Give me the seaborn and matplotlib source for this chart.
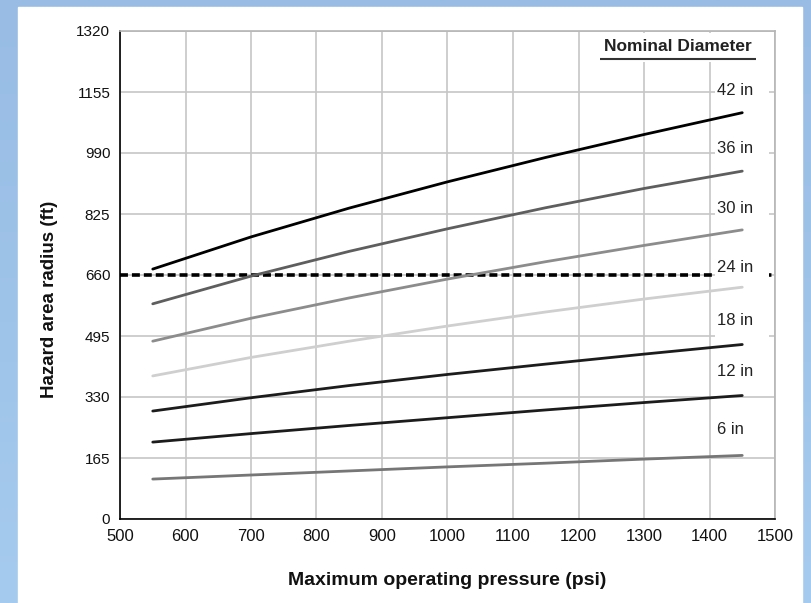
import matplotlib.pyplot as plt
import matplotlib.patches as mpatches
import numpy as np
import pandas as pd
import seaborn as sns

# values
pressures = [550, 700, 850, 1000, 1150, 1300, 1450]
diameters = ["42 in", "36 in", "30 in", "24 in", "18 in", "12 in", "6 in"]
radius_42 = [676, 763, 841, 912, 978, 1040, 1099]
radius_36 = [582, 657, 724, 785, 842, 894, 941]
radius_30 = [481, 543, 598, 649, 696, 740, 782]
radius_24 = [387, 437, 481, 522, 560, 595, 627]
radius_18 = [292, 328, 361, 391, 419, 446, 472]
radius_12 = [208, 231, 253, 274, 295, 315, 334]
radius_6 = [108, 119, 130, 141, 151, 162, 172]
threshold = 660
x_ticks = list(range(500, 1600, 100))
y_ticks = list(range(0, 1321, 165))

series = [radius_42, radius_36, radius_30, radius_24, radius_18, radius_12, radius_6]
df = pd.DataFrame(
    [(d, p, r) for d, vals in zip(diameters, series) for p, r in zip(pressures, vals)],
    columns=["diameter", "pressure", "radius"],
)

palette = {
    "42 in": "#000000",
    "36 in": "#5e5e5e",
    "30 in": "#8c8c8c",
    "24 in": "#cfcfcf",
    "18 in": "#1c1c1c",
    "12 in": "#1c1c1c",
    "6 in": "#767676",
}
label_y = {
    "42 in": 1160, "36 in": 1003, "30 in": 841, "24 in": 679,
    "18 in": 536, "12 in": 398, "6 in": 241,
}

sns.set_style("white")
plt.rcParams["font.family"] = ["Liberation Sans", "DejaVu Sans"]

fig = plt.figure(figsize=(8.12, 6.03), dpi=100)

# slide background: blue gradient with white panel
bg = fig.add_axes([0, 0, 1, 1], zorder=-2)
grad = np.linspace(0, 1, 256).reshape(-1, 1)
bg.imshow(grad, aspect="auto", extent=[0, 1, 0, 1],
          cmap=plt.matplotlib.colors.LinearSegmentedColormap.from_list(
              "slide", ["#98bce4", "#a5cbee"]))
bg.add_patch(mpatches.Rectangle((18 / 812, 0), (802 - 18) / 812, 1 - 7 / 603,
                                transform=bg.transAxes, color="white", zorder=2))
bg.set_axis_off()

ax = fig.add_axes([120 / 812, 1 - 519 / 603, 655 / 812, 488 / 603])
ax.set_facecolor("white")

ax.axhline(threshold, color="black", lw=2.6, ls=(0, (2.2, 1.1)), zorder=3)

sns.lineplot(data=df, x="pressure", y="radius", hue="diameter", palette=palette,
             linewidth=2.0, legend=False, ax=ax, zorder=4)

# white text boxes behind the series labels (they hide grid and threshold line)
for name in diameters:
    ax.add_patch(mpatches.Rectangle((1408, label_y[name] - 45), 83, 90,
                                    facecolor="white", edgecolor="none", zorder=5))
    ax.text(1411, label_y[name], name, fontsize=12, va="center", ha="left",
            color="#222222", zorder=6)

ax.add_patch(mpatches.Rectangle((1225, 1235), 255, 80, facecolor="white",
                                edgecolor="none", zorder=5))
ax.text(1352, 1278, "Nominal Diameter", fontsize=12.5, fontweight="bold",
        ha="center", va="center", color="#222222", zorder=6)
ax.plot([1233, 1471], [1244, 1244], color="#333333", lw=1.5, zorder=6,
        solid_capstyle="butt")

ax.set_xlim(500, 1500)
ax.set_ylim(0, 1320)
ax.set_xticks(x_ticks)
ax.set_yticks(y_ticks)
ax.grid(True, color="#c6c6c6", lw=1.2)
ax.set_axisbelow(True)
for side in ["top", "right"]:
    ax.spines[side].set_color("#b5b5b5")
    ax.spines[side].set_linewidth(1.2)
for side in ["left", "bottom"]:
    ax.spines[side].set_color("black")
    ax.spines[side].set_linewidth(1.2)
ax.tick_params(axis="both", direction="inout", length=7, width=1.0,
               color="black", labelcolor="#111111")
ax.tick_params(axis="y", labelsize=11)
ax.tick_params(axis="x", labelsize=12, pad=4)

ax.set_xlabel("Maximum operating pressure (psi)", fontsize=14, fontweight="bold",
              labelpad=20, color="#111111")
ax.set_ylabel("Hazard area radius (ft)", fontsize=13.5, fontweight="bold",
              color="#111111")
ax.yaxis.set_label_coords(-0.095, 0.45)

fig.savefig("out.png", dpi=100)
